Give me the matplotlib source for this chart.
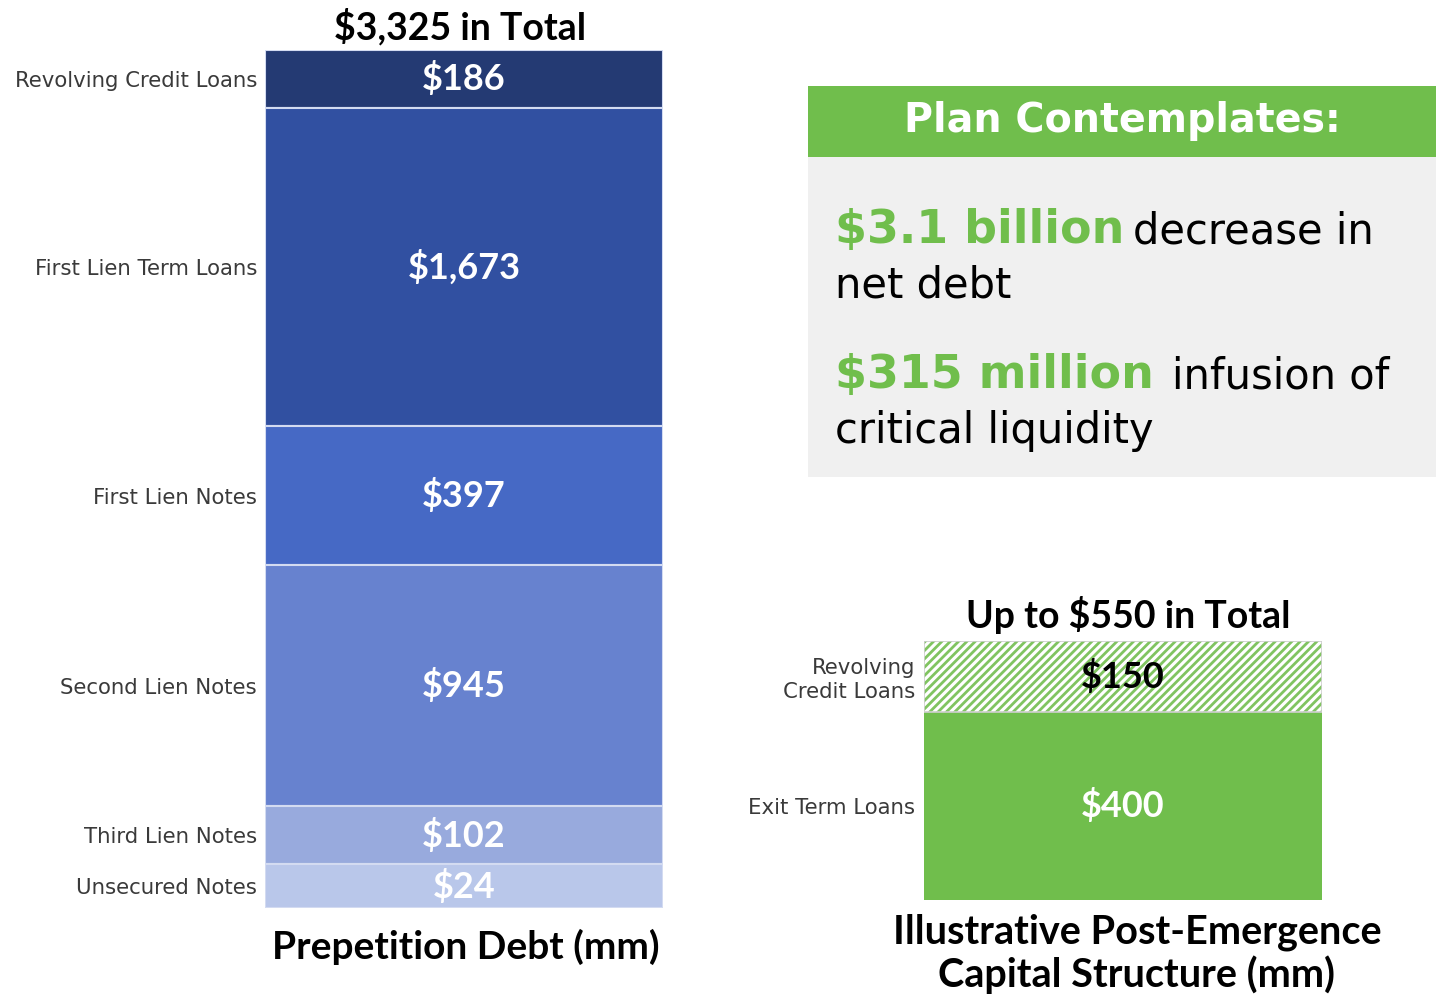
import numpy as np
import matplotlib
matplotlib.use("Agg")
import matplotlib.pyplot as plt
from matplotlib.patches import Rectangle

# ---------------- data ----------------
left_categories = ["Revolving Credit Loans", "First Lien Term Loans", "First Lien Notes",
                   "Second Lien Notes", "Third Lien Notes", "Unsecured Notes"]
left_values = [186, 1673, 397, 945, 102, 24]          # $mm (labels)
# the source draws the prepetition stack not to scale; segment sizes
left_drawn = [58, 318, 139, 241, 58, 44]
left_total = 3325

right_categories = ["Revolving\nCredit Loans", "Exit Term Loans"]
right_values = [150, 400]                              # $mm
right_total = 550

plan_amounts = ["$3.1 billion", "$315 million"]
plan_rest_line1 = ["decrease in", "infusion of"]
plan_rest_line2 = ["net debt", "critical liquidity"]

# ---------------- style ----------------
blues = ["#243A73", "#3150A1", "#4669C5", "#6782CF", "#98AADD", "#B9C7EA"]
sep_color = "#D3DBF1"
green = "#70BE4C"
hatch_green = "#80C460"
label_color = "#3A3A3A"
BOLD = "Lato"
plt.rcParams["hatch.linewidth"] = 2.0

W, H = 1456, 1005
fig = plt.figure(figsize=(W / 100, H / 100), dpi=100)
fig.patch.set_facecolor("white")


def px_rect(x0, y0, x1, y1):
    return [x0 / W, 1 - y1 / H, (x1 - x0) / W, (y1 - y0) / H]


def pt(px):
    return px * 72 / 100


# ---------------- left stacked bar ----------------
axL = fig.add_axes(px_rect(265, 50, 663, 908))
cum = np.cumsum(left_drawn)
bottoms = cum[-1] - cum
axL.bar(0, left_drawn, bottom=bottoms, width=1, color=blues,
        edgecolor=sep_color, linewidth=1.5)
axL.set_xlim(-0.5, 0.5)
axL.set_ylim(0, cum[-1])
centers = bottoms + np.array(left_drawn) / 2
for c, v in zip(centers, left_values):
    axL.text(0, c, f"${v:,}", ha="center", va="center", color="white",
             fontsize=26, fontweight="bold", family=BOLD)
axL.set_yticks(centers, left_categories)
axL.set_xticks([])
axL.tick_params(axis="y", length=0, pad=pt(8), labelsize=15.3, labelcolor=label_color)
for s in axL.spines.values():
    s.set_visible(False)
axL.annotate(f"${left_total:,} in Total", xy=(0.5, 1), xycoords="axes fraction",
             xytext=(pt(-4), pt(23)), textcoords="offset points", ha="center", va="center",
             fontsize=27, fontweight="bold", family=BOLD, color="black")
axL.annotate("Prepetition Debt (mm)", xy=(0.5, 0), xycoords="axes fraction",
             xytext=(pt(2), pt(-39)), textcoords="offset points", ha="center", va="center",
             fontsize=28, fontweight="bold", family=BOLD, color="black")

# ---------------- right stacked bar ----------------
axR = fig.add_axes(px_rect(924, 641, 1322, 900))
term, revolver = right_values[1], right_values[0]
axR.bar(0, term, width=1, color=green, linewidth=0)
axR.bar(0, revolver, bottom=term, width=1, color="white", edgecolor=hatch_green,
        hatch="////", linewidth=0)
axR.bar(0, revolver, bottom=term, width=1, fill=False, edgecolor="#CFCFCF", linewidth=1.2)
axR.set_xlim(-0.5, 0.5)
axR.set_ylim(0, right_total)
axR.text(0, term + revolver / 2, f"${revolver}", ha="center", va="center", color="black",
         fontsize=26, fontweight="bold", family=BOLD)
axR.text(0, term / 2, f"${term}", ha="center", va="center", color="white",
         fontsize=26, fontweight="bold", family=BOLD)
axR.set_yticks([term + revolver / 2, term / 2], right_categories)
axR.set_xticks([])
axR.tick_params(axis="y", length=0, pad=pt(9), labelsize=15.3, labelcolor=label_color)
for s in axR.spines.values():
    s.set_visible(False)
axR.annotate(f"Up to ${right_total} in Total", xy=(0.5, 1), xycoords="axes fraction",
             xytext=(pt(5), pt(26)), textcoords="offset points", ha="center", va="center",
             fontsize=27, fontweight="bold", family=BOLD, color="black")
axR.annotate("Illustrative Post-Emergence", xy=(0.5, 0), xycoords="axes fraction",
             xytext=(pt(14), pt(-32)), textcoords="offset points", ha="center", va="center",
             fontsize=28.5, fontweight="bold", family=BOLD, color="black")
axR.annotate("Capital Structure (mm)", xy=(0.5, 0), xycoords="axes fraction",
             xytext=(pt(14), pt(-75)), textcoords="offset points", ha="center", va="center",
             fontsize=28.5, fontweight="bold", family=BOLD, color="black")

# ---------------- "Plan Contemplates" panel ----------------
fig.add_artist(Rectangle((808 / W, 1 - 477 / H), 628 / W, 320 / H,
                         transform=fig.transFigure, facecolor="#F0F0F0", edgecolor="none"))
fig.add_artist(Rectangle((808 / W, 1 - 157 / H), 628 / W, 71 / H,
                         transform=fig.transFigure, facecolor=green, edgecolor="none"))
fig.text(1122 / W, 1 - 121 / H, "Plan Contemplates:", ha="center", va="center",
         color="white", fontsize=28.5, fontweight="bold", family="DejaVu Sans")

baselines1 = [243, 388]
baselines2 = [297, 443]
rest_x = [1133, 1172]
for amt, r1, r2, b1, b2, rx in zip(plan_amounts, plan_rest_line1, plan_rest_line2,
                                    baselines1, baselines2, rest_x):
    fig.text(835 / W, 1 - b1 / H, amt, ha="left", va="baseline", color=green,
             fontsize=33, fontweight="bold", family="DejaVu Sans")
    fig.text(rx / W, 1 - b1 / H, r1, ha="left", va="baseline", color="black",
             fontsize=30, family="DejaVu Sans")
    fig.text(835 / W, 1 - b2 / H, r2, ha="left", va="baseline", color="black",
             fontsize=30, family="DejaVu Sans")

fig.savefig("out.png", dpi=100, facecolor="white")
